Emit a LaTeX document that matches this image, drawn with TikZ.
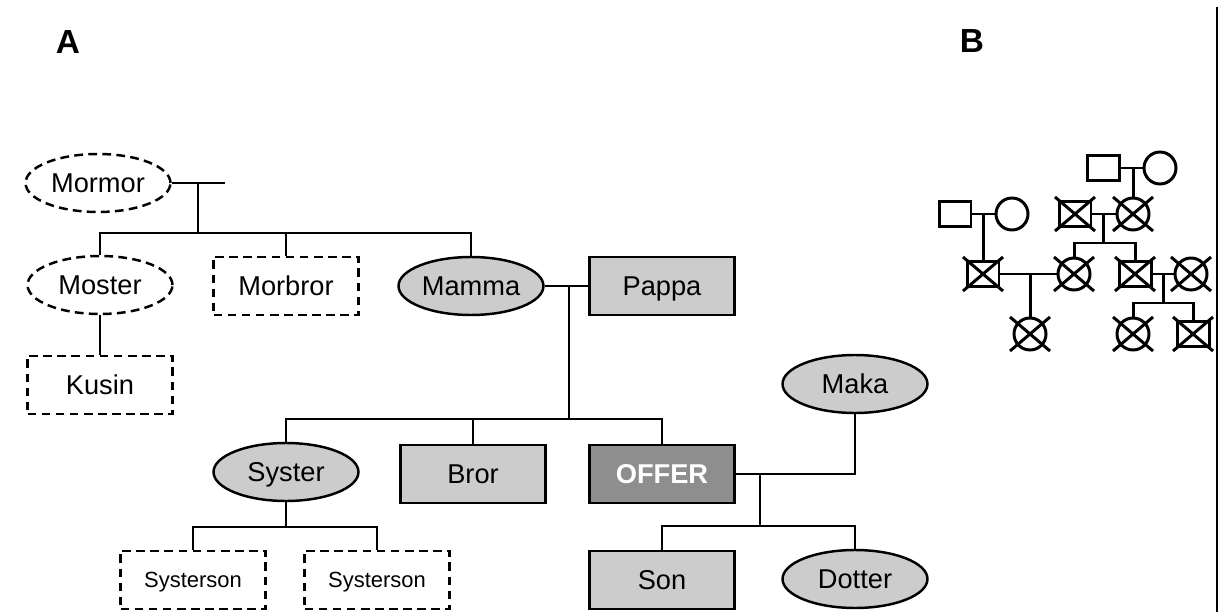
\documentclass[tikz,border=0pt]{standalone}
\usepackage{fontspec}
\setmainfont{Liberation Sans}
\usetikzlibrary{shapes.geometric}
\definecolor{persongray}{RGB}{204,204,204}
\definecolor{offergray}{RGB}{142,142,142}

\begin{document}
\begin{tikzpicture}[x=0.02cm,y=-0.02cm,line width=1.4pt,
						every node/.style={font=\fontsize{15.5}{18}\selectfont,inner sep=0pt,text height=11.1pt,text depth=0pt},
						man/.style={rectangle,draw,fill=persongray,minimum width=2.9cm,minimum height=1.16cm},
						woman/.style={ellipse,draw,fill=persongray,minimum width=2.9cm,minimum height=1.16cm},
						remote/.style={dash pattern=on 5pt off 3pt,fill=white},
						smalltext/.style={font=\fontsize{12.5}{15}\selectfont,text height=9pt},
						male/.style={rectangle,draw,line width=1.7pt,minimum width=0.64cm,minimum height=0.5cm},
						female/.style={circle,draw,line width=1.7pt,minimum size=0.64cm},
						panel/.style={font=\bfseries\fontsize{19}{22}\selectfont,anchor=base}]

		\useasboundingbox (0,0) rectangle (1228,612);

		\node [panel] (pa) at (68,53) {A};
		\node [panel] (pb) at (972,52) {B};

		% A
		\node [woman,remote] (mormor) at (98,183) {Mormor};
		\node [woman,remote] (moster) at (100,285) {Moster};
		\node [man,remote] (morbror) at (286,286) {Morbror};
		\node [man,remote] (kusin) at (100,385) {Kusin};
		\node [woman] (mamma) at (471,286) {Mamma};
		\node [man] (pappa) at (662,286) {Pappa};
		\node [woman] (syster) at (286,472) {Syster};
		\node [man] (bror) at (473,474) {Bror};
		\node [man,fill=offergray,text=white,font=\bfseries\fontsize{15.5}{18}\selectfont] (offer) at (662,474) {OFFER};
		\node [woman] (maka) at (855,384) {Maka};
		\node [man,remote,smalltext] (ss1) at (193,580) {Systerson};
		\node [man,remote,smalltext] (ss2) at (377,580) {Systerson};
		\node [man] (son) at (662,580) {Son};
		\node [woman] (dotter) at (855,579) {Dotter};

		\coordinate (mm) at (198,183);
		\coordinate (mmend) at (225,183);
		\coordinate (k0) at (198,233);
		\draw (mormor.east) -- (mmend);
		\draw (mm) -- (k0);
		\draw (k0) -| (moster.north);
		\draw (k0) -| (morbror.north);
		\draw (k0) -| (mamma.north);
		\draw (moster.south) -- (kusin.north);

		\coordinate (mp) at (569,286);
		\coordinate (k1) at (569,419);
		\draw (mamma.east) -- (pappa.west);
		\draw (mp) -- (k1);
		\draw (k1) -| (syster.north);
		\draw (k1) -| (bror.north);
		\draw (k1) -| (offer.north);

		\coordinate (k3) at (286,527);
		\draw (syster.south) -- (k3);
		\draw (k3) -| (ss1.north);
		\draw (k3) -| (ss2.north);

		\coordinate (om) at (760,474);
		\coordinate (k2) at (760,526);
		\draw (offer.east) -| (maka.south);
		\draw (om) -- (k2);
		\draw (k2) -| (son.north);
		\draw (k2) -| (dotter.north);

		% B
		\begin{scope}[line width=1.7pt]
		\node [male] (f1) at (1103,168) {};
		\node [female] (m1) at (1160,168) {};
		\node [male] (f2) at (955,214) {};
		\node [female] (m2) at (1012,214) {};
		\node [male] (s2) at (1075,214) {};
		\node [female] (c2) at (1133,214) {};
		\node [male] (s3) at (983,274) {};
		\node [female] (c3) at (1074,274) {};
		\node [male] (s4) at (1135,274) {};
		\node [female] (c4) at (1191,274) {};
		\node [female] (c5) at (1030,334) {};
		\node [female] (c6) at (1133,334) {};
		\node [male] (s5) at (1193,334) {};

		\foreach \n in {s2,c2,s3,c3,s4,c4,c5,c6,s5}
			\draw (\n.center) +(-20,-17) -- +(20,17) +(-20,17) -- +(20,-17);

		\coordinate (b1) at (1103,243);
		\coordinate (b2) at (1163,303);
		\draw (f1.east) -- (m1.west);
		\draw (c2.north) -- (c2.north |- f1.east);
		\draw (f2.east) -- (m2.west);
		\draw (s3.north) -- (s3.north |- f2.east);
		\draw (s2.east) -- (c2.west);
		\draw (b1 |- s2.east) -- (b1);
		\draw (b1) -| (c3.north);
		\draw (b1) -| (s4.north);
		\draw (s3.east) -- (c3.west);
		\draw (c5.north) -- (c5.north |- s3.east);
		\draw (s4.east) -- (c4.west);
		\draw (b2 |- s4.east) -- (b2);
		\draw (b2) -| (c6.north);
		\draw (b2) -| (s5.north);
		\end{scope}

		\draw (1217,7) -- (1217,612);

	\end{tikzpicture}
\end{document}
